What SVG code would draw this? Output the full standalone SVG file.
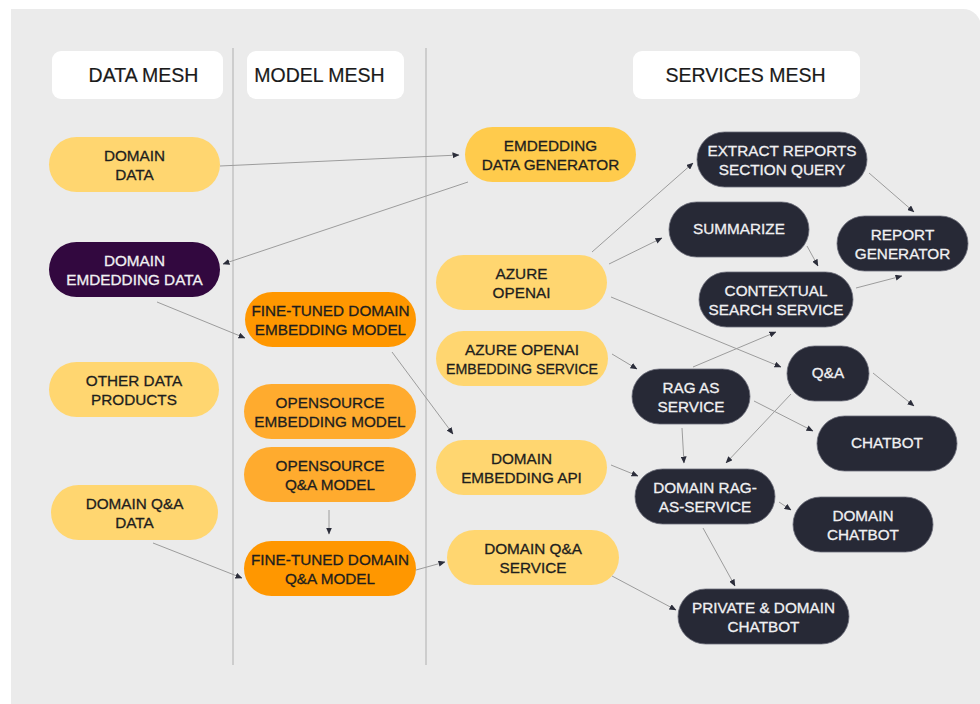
<svg xmlns="http://www.w3.org/2000/svg" width="980" height="704" viewBox="0 0 980 704">
<defs>
<marker id="ah" markerWidth="7" markerHeight="6" refX="6.5" refY="3" orient="auto" markerUnits="userSpaceOnUse">
<path d="M0,0 L7,3 L0,6 z" fill="#2b2d3a"/>
</marker>
<style>
.bg{fill:#ebebeb}
.hdr{fill:#ffffff}
.ht{font-family:"Liberation Sans",Arial,sans-serif;font-size:19.5px;fill:#1a1a1a;stroke:#1a1a1a;stroke-width:0.2;text-anchor:middle}
.sep{stroke:#bdbdbd;stroke-width:1.3;fill:none}
.t{font-family:"Liberation Sans",Arial,sans-serif;font-size:15.3px;text-anchor:middle;fill:#1e1e1e;stroke:#1e1e1e;stroke-width:0.3}
.w{fill:#f0f0f2;stroke:#f0f0f2}
.ly{fill:#ffd670}
.sy{fill:#ffcb4c}
.or{fill:#ff9700}
.lo{fill:#ffab2e}
.pu{fill:#32083f}
.dk{fill:#272936;stroke:#6b6c78;stroke-width:0.8}
.c{stroke:#9c9c9c;stroke-width:1;fill:none;marker-end:url(#ah)}
</style>
</defs>
<path class="bg" d="M11 9 H963 A18 18 0 0 1 981 27 V704 H11 Z"/>
<g id="headers">
<rect class="hdr" x="52" y="51" width="171" height="48" rx="9"/>
<text class="ht" x="143.5" y="82">DATA MESH</text>
<rect class="hdr" x="247" y="51" width="157" height="48" rx="9"/>
<text class="ht" x="319.5" y="82">MODEL MESH</text>
<rect class="hdr" x="633" y="51" width="227" height="48" rx="9"/>
<text class="ht" x="745.5" y="82">SERVICES MESH</text>
</g>
<g id="separators">
<line class="sep" x1="233" y1="48" x2="233" y2="665"/>
<line class="sep" x1="426" y1="48" x2="426" y2="665"/>
</g>
<g id="connectors">
<line class="c" x1="220" y1="166" x2="459" y2="155"/>
<line class="c" x1="468" y1="182" x2="223" y2="264"/>
<line class="c" x1="157" y1="302" x2="245" y2="338"/>
<line class="c" x1="392" y1="352" x2="453" y2="434"/>
<line class="c" x1="329" y1="510" x2="329" y2="534"/>
<line class="c" x1="153" y1="543" x2="242" y2="578"/>
<line class="c" x1="416" y1="570" x2="445" y2="562"/>
<line class="c" x1="592" y1="252" x2="693" y2="163"/>
<line class="c" x1="609" y1="264" x2="662" y2="238"/>
<line class="c" x1="611" y1="297" x2="781" y2="367"/>
<line class="c" x1="807" y1="246" x2="818" y2="266"/>
<line class="c" x1="869" y1="173" x2="914" y2="212"/>
<line class="c" x1="856" y1="288" x2="902" y2="276"/>
<line class="c" x1="612" y1="354" x2="637" y2="369"/>
<line class="c" x1="693" y1="367" x2="776" y2="332"/>
<line class="c" x1="873" y1="373" x2="914" y2="406"/>
<line class="c" x1="754" y1="401" x2="813" y2="431"/>
<line class="c" x1="682" y1="428" x2="684" y2="463"/>
<line class="c" x1="791" y1="394" x2="726" y2="463"/>
<line class="c" x1="611" y1="465" x2="638" y2="476"/>
<line class="c" x1="779" y1="502" x2="791" y2="510"/>
<line class="c" x1="703" y1="528" x2="735" y2="586"/>
<line class="c" x1="612" y1="576" x2="676" y2="610"/>
</g>
<g id="domain-data"><rect class="ly" x="49" y="137" width="171" height="55" rx="27.5"/><text class="t" x="134.5" y="161">DOMAIN</text><text class="t" x="134.5" y="179.5">DATA</text></g>
<g id="domain-emdedding-data"><rect class="pu" x="49" y="242" width="171" height="55" rx="27.5"/><text class="t w" x="134.5" y="266">DOMAIN</text><text class="t w" x="134.5" y="284.5">EMDEDDING DATA</text></g>
<g id="other-data-products"><rect class="ly" x="49" y="362" width="170" height="55" rx="27.5"/><text class="t" x="134" y="386">OTHER DATA</text><text class="t" x="134" y="404.5">PRODUCTS</text></g>
<g id="domain-qa-data"><rect class="ly" x="51" y="485" width="167" height="55" rx="27.5"/><text class="t" x="134.5" y="509">DOMAIN Q&amp;A</text><text class="t" x="134.5" y="527.5">DATA</text></g>
<g id="fine-tuned-embedding"><rect class="or" x="245" y="292" width="171" height="55" rx="27.5"/><text class="t" x="330.5" y="316">FINE-TUNED DOMAIN</text><text class="t" x="330.5" y="334.5">EMBEDDING MODEL</text></g>
<g id="opensource-embedding"><rect class="lo" x="244" y="384" width="172" height="55" rx="27.5"/><text class="t" x="330" y="408">OPENSOURCE</text><text class="t" x="330" y="426.5">EMBEDDING MODEL</text></g>
<g id="opensource-qa"><rect class="lo" x="244" y="447" width="172" height="55" rx="27.5"/><text class="t" x="330" y="471">OPENSOURCE</text><text class="t" x="330" y="489.5">Q&amp;A MODEL</text></g>
<g id="fine-tuned-qa"><rect class="or" x="244" y="541" width="172" height="55" rx="27.5"/><text class="t" x="330" y="565">FINE-TUNED DOMAIN</text><text class="t" x="330" y="583.5">Q&amp;A MODEL</text></g>
<g id="emdedding-data-generator"><rect class="sy" x="465" y="127" width="171" height="55" rx="27.5"/><text class="t" x="550.5" y="151">EMDEDDING</text><text class="t" x="550.5" y="169.5">DATA GENERATOR</text></g>
<g id="azure-openai"><rect class="ly" x="436" y="255" width="171" height="55" rx="27.5"/><text class="t" x="521.5" y="279">AZURE</text><text class="t" x="521.5" y="297.5">OPENAI</text></g>
<g id="azure-openai-embedding"><rect class="ly" x="436" y="331" width="172" height="55" rx="27.5"/><text class="t" x="522" y="355">AZURE OPENAI</text><text class="t" x="522" y="373.5" textLength="152" lengthAdjust="spacingAndGlyphs">EMBEDDING SERVICE</text></g>
<g id="domain-embedding-api"><rect class="ly" x="436" y="440" width="171" height="55" rx="27.5"/><text class="t" x="521.5" y="464">DOMAIN</text><text class="t" x="521.5" y="482.5">EMBEDDING API</text></g>
<g id="domain-qa-service"><rect class="ly" x="447" y="530" width="172" height="55" rx="27.5"/><text class="t" x="533" y="554">DOMAIN Q&amp;A</text><text class="t" x="533" y="572.5">SERVICE</text></g>
<g id="extract-reports"><rect class="dk" x="697" y="132" width="170" height="55" rx="27.5"/><text class="t w" x="782" y="156">EXTRACT REPORTS</text><text class="t w" x="782" y="174.5">SECTION QUERY</text></g>
<g id="summarize"><rect class="dk" x="669" y="202" width="140" height="55" rx="27.5"/><text class="t w" x="739" y="234">SUMMARIZE</text></g>
<g id="report-generator"><rect class="dk" x="837" y="216" width="131" height="55" rx="27.5"/><text class="t w" x="902.5" y="240">REPORT</text><text class="t w" x="902.5" y="258.5">GENERATOR</text></g>
<g id="contextual-search"><rect class="dk" x="699" y="272" width="154" height="55" rx="27.5"/><text class="t w" x="776" y="296">CONTEXTUAL</text><text class="t w" x="776" y="314.5">SEARCH SERVICE</text></g>
<g id="qa"><rect class="dk" x="787" y="346" width="82" height="55" rx="27.5"/><text class="t w" x="828" y="378">Q&amp;A</text></g>
<g id="rag-as-service"><rect class="dk" x="632" y="369" width="118" height="55" rx="27.5"/><text class="t w" x="691" y="393">RAG AS</text><text class="t w" x="691" y="411.5">SERVICE</text></g>
<g id="chatbot"><rect class="dk" x="817" y="416" width="140" height="55" rx="27.5"/><text class="t w" x="887" y="448">CHATBOT</text></g>
<g id="domain-rag-as-service"><rect class="dk" x="635" y="469" width="140" height="55" rx="27.5"/><text class="t w" x="705" y="493">DOMAIN RAG-</text><text class="t w" x="705" y="511.5">AS-SERVICE</text></g>
<g id="domain-chatbot"><rect class="dk" x="793" y="497" width="140" height="55" rx="27.5"/><text class="t w" x="863" y="521">DOMAIN</text><text class="t w" x="863" y="539.5">CHATBOT</text></g>
<g id="private-domain-chatbot"><rect class="dk" x="678" y="589" width="171" height="55" rx="27.5"/><text class="t w" x="763.5" y="613">PRIVATE &amp; DOMAIN</text><text class="t w" x="763.5" y="631.5">CHATBOT</text></g>
</svg>
